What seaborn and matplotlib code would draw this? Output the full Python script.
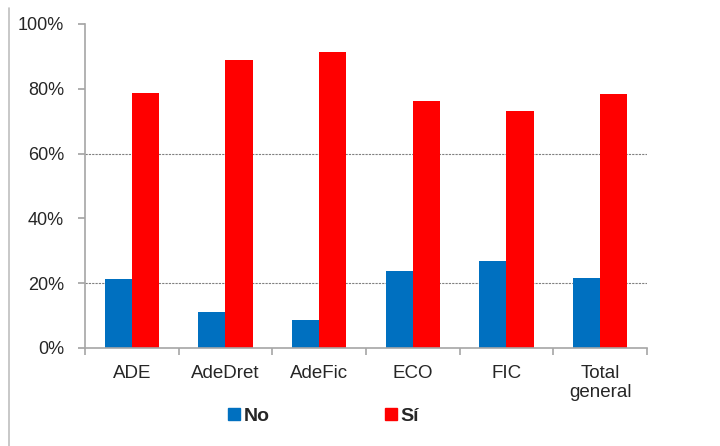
import pandas as pd
import numpy as np
import matplotlib
matplotlib.use("Agg")
import matplotlib.pyplot as plt
import seaborn as sns
from matplotlib.lines import Line2D
from matplotlib.ticker import PercentFormatter

# datos (porcentaje)
categorias = ["ADE", "AdeDret", "AdeFic", "ECO", "FIC", "Total\ngeneral"]
valores_no = [21.4, 11.1, 8.6, 23.9, 26.9, 21.5]
valores_si = [78.6, 88.9, 91.4, 76.1, 73.1, 78.5]
series = ["No", "Sí"]
colores = ["#0070C0", "#FF0000"]

df = pd.DataFrame({
    "Titulacion": categorias * 2,
    "Respuesta": [series[0]] * len(categorias) + [series[1]] * len(categorias),
    "Porcentaje": valores_no + valores_si,
})

sns.set_theme(style="white")
plt.rcParams["font.family"] = ["Liberation Sans", "DejaVu Sans"]

fig = plt.figure(figsize=(7.2, 4.46), dpi=100)
ax = fig.add_axes([85 / 720, 1 - 348 / 446, 562 / 720, 324 / 446])

sns.barplot(data=df, x="Titulacion", y="Porcentaje", hue="Respuesta",
            palette=colores, width=0.58, saturation=1, linewidth=0,
            ax=ax, legend=False)

ax.set_ylim(0, 100)
ax.set_xlim(-0.5, len(categorias) - 0.5)
ax.set_yticks([0, 20, 40, 60, 80, 100])
ax.yaxis.set_major_formatter(PercentFormatter(decimals=0))
ax.set_xlabel("")
ax.set_ylabel("")

# líneas de guía punteadas
for g in [20, 60]:
    ax.axhline(g, color="#808080", linestyle=(0, (2, 1)), linewidth=0.8, zorder=0)

for s in ["top", "right"]:
    ax.spines[s].set_visible(False)
for s in ["left", "bottom"]:
    ax.spines[s].set_color("#A6A6A6")
    ax.spines[s].set_linewidth(1.2)

ax.tick_params(axis="y", labelsize=13, colors="#262626", length=5,
               color="#A6A6A6", pad=10, left=True)
ax.tick_params(axis="x", which="major", labelsize=13.5, colors="#262626",
               length=0, pad=12)
ax.set_xticks(np.arange(-0.5, len(categorias)), minor=True)
ax.tick_params(axis="x", which="minor", length=5, color="#A6A6A6",
               width=1.2, bottom=True)

# leyenda inferior
handles = [Line2D([], [], marker="s", linestyle="", markersize=8.5,
                  markerfacecolor=c, markeredgecolor=c) for c in colores]
leg = fig.legend(handles, series, loc="center", bbox_to_anchor=(0.45, 0.067),
                 ncol=2, frameon=False, handlelength=0.55, handletextpad=0.2,
                 columnspacing=6.0, prop={"weight": "bold", "size": 14})

# borde izquierdo del área del gráfico
fig.add_artist(Line2D([8.5 / 720, 8.5 / 720], [0, 1 - 8 / 446],
                      transform=fig.transFigure, color="#BFBFBF", linewidth=1.2))

fig.savefig("out.png", dpi=100)
